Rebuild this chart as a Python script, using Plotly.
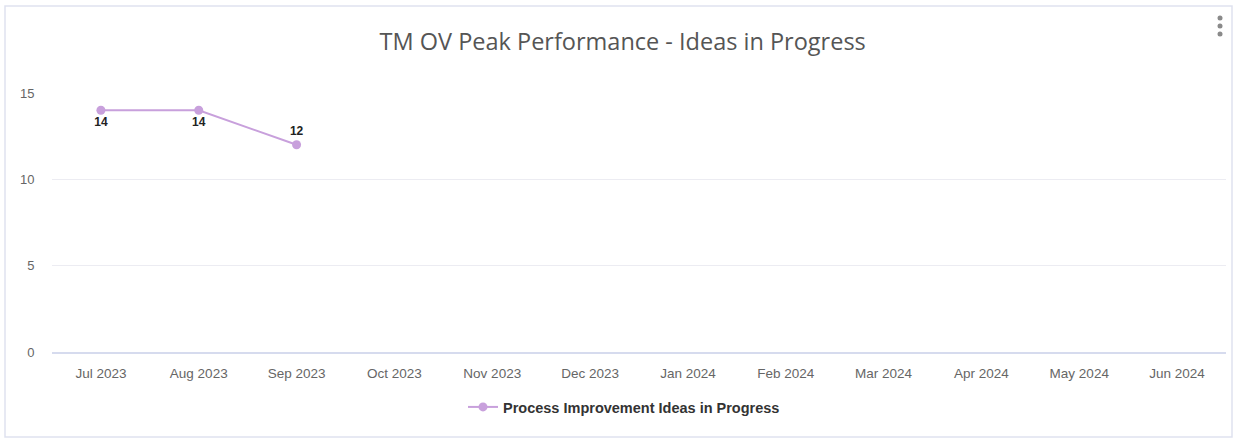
import plotly.graph_objects as go

months = ["Jul 2023", "Aug 2023", "Sep 2023", "Oct 2023", "Nov 2023", "Dec 2023",
          "Jan 2024", "Feb 2024", "Mar 2024", "Apr 2024", "May 2024", "Jun 2024"]
ideas_months = ["Jul 2023", "Aug 2023", "Sep 2023"]
ideas_values = [14, 14, 12]
label_pos = ["bottom center", "bottom center", "top center"]

purple = "#c8a0dc"

# plot area in pixels
L, R, T, B = 52, 12, 93, 88
W, H = 1238, 440
pw, ph = W - L - R, H - T - B


def px_x(x):
    return (x - L) / pw


def px_y(y):
    return (H - B - y) / ph


fig = go.Figure()
# include all months on the axis
fig.add_trace(go.Scatter(x=months, y=[None] * len(months), showlegend=False, hoverinfo="skip"))
fig.add_trace(go.Scatter(
    x=ideas_months, y=ideas_values,
    mode="lines+markers+text",
    name="Process Improvement Ideas in Progress",
    line=dict(color=purple, width=2),
    marker=dict(color=purple, size=9),
    text=[str(v) for v in ideas_values],
    textposition=label_pos,
    textfont=dict(family="Liberation Sans, Arial", size=12, color="#222222", weight="bold"),
))

fig.update_layout(
    width=W, height=H,
    margin=dict(l=L, r=R, t=T, b=B),
    paper_bgcolor="white", plot_bgcolor="white",
    title=dict(text="TM OV Peak Performance - Ideas in Progress",
               x=0.503, xanchor="center", y=0.905, yanchor="middle",
               font=dict(family="Open Sans", size=23.5, color="#555555")),
    xaxis=dict(type="category", categoryorder="array", categoryarray=months,
               range=[-0.5, 11.5], showgrid=False, zeroline=False,
               showline=True, linecolor="#d6dbee", linewidth=2,
               ticks="outside", ticklen=8, tickcolor="white",
               tickfont=dict(family="Liberation Sans, Arial", size=13.5, color="#666666")),
    yaxis=dict(range=[0, 15], tickvals=[0, 5, 10, 15], showgrid=True,
               gridcolor="#ececf2", gridwidth=1, zeroline=False, showline=False,
               ticks="outside", ticklen=14, tickcolor="white",
               tickfont=dict(family="Liberation Sans, Arial", size=13, color="#666666")),
    showlegend=True,
    legend=dict(orientation="h", x=0.5 - 15 / pw, xanchor="center", y=px_y(407), yanchor="middle",
                font=dict(family="Liberation Sans, Arial", size=14.5, color="#333333", weight="bold")),
)

# card border
fig.add_shape(type="rect", xref="paper", yref="paper",
              x0=px_x(5), x1=px_x(1232), y0=px_y(437), y1=px_y(6),
              line=dict(color="#dfe2f0", width=1.5), fillcolor="rgba(0,0,0,0)", layer="below")

# menu icon (three dots)
for dy in (18, 26, 34):
    fig.add_shape(type="circle", xref="paper", yref="paper",
                  x0=px_x(1217.5), x1=px_x(1222.5), y0=px_y(dy + 2.5), y1=px_y(dy - 2.5),
                  line=dict(width=0), fillcolor="#8a8a8a")

fig.write_html("out.html", config={"displayModeBar": False},
               post_script="document.body.style.margin='0';")
